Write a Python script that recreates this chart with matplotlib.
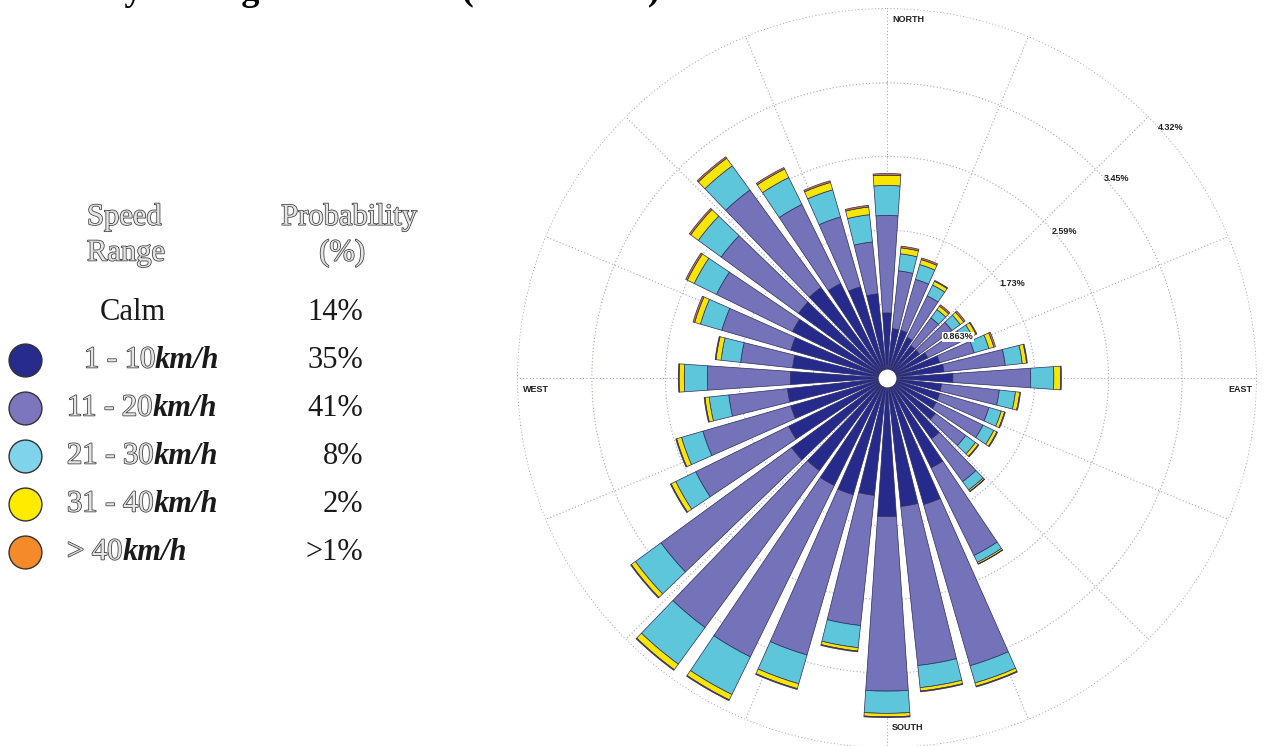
import numpy as np
import matplotlib.pyplot as plt
import matplotlib.patheffects as pe

# wind directions (degrees, clockwise from north)
directions = np.arange(0, 360, 10)

# probability (%) per direction and speed class
spd_1_10 = [0.76, 0.58, 0.58, 0.53, 0.47, 0.47, 0.53, 0.64, 0.67, 0.77, 0.64, 0.64,
            0.64, 0.70, 0.88, 1.17, 1.54, 1.51, 1.62, 1.38, 1.42, 1.40, 1.34, 1.38,
            1.28, 1.17, 1.17, 1.13, 1.11, 1.17, 1.23, 1.28, 1.31, 1.23, 1.11, 0.99]
spd_11_20 = [1.14, 0.68, 0.62, 0.54, 0.40, 0.47, 0.46, 0.42, 0.72, 0.91, 0.68, 0.60,
             0.61, 0.44, 0.62, 1.14, 1.96, 1.87, 2.04, 1.53, 1.95, 2.23, 2.27, 1.89,
             1.21, 1.07, 0.69, 0.97, 0.61, 0.84, 0.99, 1.12, 1.41, 1.03, 0.85, 0.61]
spd_21_30 = [0.35, 0.20, 0.18, 0.14, 0.12, 0.12, 0.12, 0.18, 0.20, 0.27, 0.19, 0.15,
             0.14, 0.14, 0.12, 0.09, 0.21, 0.26, 0.26, 0.26, 0.35, 0.49, 0.53, 0.37,
             0.26, 0.26, 0.23, 0.27, 0.23, 0.26, 0.29, 0.33, 0.35, 0.35, 0.33, 0.32]
spd_31_40 = [0.12, 0.07, 0.06, 0.05, 0.05, 0.05, 0.05, 0.06, 0.05, 0.08, 0.05, 0.04,
             0.04, 0.04, 0.02, 0.02, 0.04, 0.04, 0.04, 0.04, 0.06, 0.07, 0.08, 0.06,
             0.06, 0.06, 0.05, 0.06, 0.06, 0.07, 0.09, 0.11, 0.11, 0.11, 0.09, 0.09]
spd_40_up = [0.02, 0.02, 0.02, 0.01, 0.02, 0.02, 0.01, 0.02, 0.01, 0.01, 0.01, 0.01,
             0.01, 0.01, 0.005, 0.005, 0.01, 0.01, 0.01, 0.01, 0.01, 0.01, 0.01, 0.01,
             0.01, 0.01, 0.01, 0.01, 0.01, 0.02, 0.02, 0.02, 0.02, 0.02, 0.02, 0.02]

ring_values = [0.863, 1.73, 2.59, 3.45, 4.32]

# table on the left
range_labels = ['Calm', '1 - 10', '11 - 20', '21 - 30', '31 - 40', '> 40']
range_probs = ['14%', '35%', '41%', '8%', '2%', '>1%']

bar_colors = ['#262a8a', '#7472b9', '#5ec6da', '#f6e600', '#d9762c']
dot_colors = ['#262b8c', '#7b76bd', '#7fd3ea', '#ffeb00', '#f58a2a']

series = [spd_1_10, spd_11_20, spd_21_30, spd_31_40, spd_40_up]

fig = plt.figure(figsize=(12.65, 7.46), dpi=100)

# --- wind rose ---
ax = fig.add_axes([517 / 1265, -2 / 746, 740 / 1265, 740 / 746], projection='polar')
ax.set_theta_zero_location('N')
ax.set_theta_direction(-1)

theta = np.deg2rad(directions)
width = np.deg2rad(10) * 0.78
bottom = np.zeros(len(directions))
for vals, col in zip(series, bar_colors):
    vals = np.array(vals)
    ax.bar(theta, vals, width=width, bottom=bottom, color=col,
           edgecolor='#2c2c5c', linewidth=0.5, zorder=3)
    bottom += vals

ax.scatter([0], [0], s=140, color='white', zorder=5)

ax.set_ylim(0, 4.325)
ax.set_rgrids(ring_values, labels=[''] * len(ring_values))
ax.set_thetagrids(np.arange(0, 360, 22.5), labels=[''] * 16)
ax.grid(color='#a3a3cc', linestyle=(0, (1, 2)), linewidth=0.8)
ax.set_axisbelow(True)
ax.spines['polar'].set_visible(False)

label_angles = [60, 53, 50.5, 49, 48.5]
for r, a in zip(ring_values, label_angles):
    ax.text(np.deg2rad(a), r + 0.1, f'{r}%', fontsize=6.5, fontweight='bold',
            family='Liberation Sans', ha='center', va='center', color='#222222',
            bbox=dict(facecolor='white', edgecolor='none', pad=0.5) if r < 1 else None,
            zorder=6)

# --- overlay in pixel coords for text ---
ov = fig.add_axes([0, 0, 1, 1])
ov.set_xlim(0, 1265)
ov.set_ylim(746, 0)
ov.axis('off')

compass = dict(fontsize=6.5, fontweight='bold', family='Liberation Sans', color='#222222', va='center')
ov.text(892, 19, 'NORTH', ha='left', **compass)
ov.text(892, 727, 'SOUTH', ha='left', **compass)
ov.text(523, 389, 'WEST', ha='left', **compass)
ov.text(1252, 389, 'EAST', ha='right', **compass)

# title (cut off at the top edge, as in the source image)
fig.text(60 / 1265, 1.0, 'Daily Average Wind Rose (2000 - 2010)', fontsize=26,
         fontweight='bold', family='Liberation Serif', va='baseline', ha='left')

hollow = [pe.withStroke(linewidth=1.1, foreground='#3a3a3a')]
serif = dict(family='Liberation Serif', fontsize=22)

ov.text(87, 217, 'Speed', ha='left', va='center', color='#e4e4e4', path_effects=hollow, **serif)
ov.text(87, 253, 'Range', ha='left', va='center', color='#e4e4e4', path_effects=hollow, **serif)
ov.text(349, 217, 'Probability', ha='center', va='center', color='#e4e4e4', path_effects=hollow, **serif)
ov.text(342, 253, '(%)', ha='center', va='center', color='#e4e4e4', path_effects=hollow, **serif)

row_y0, row_dy = 312, 48
for i, (lab, prob) in enumerate(zip(range_labels, range_probs)):
    y = row_y0 + i * row_dy
    ov.text(363, y, prob, ha='right', va='center', color='#1a1a1a', **serif)
    if lab == 'Calm':
        ov.text(133, y, lab, ha='center', va='center', color='#1a1a1a', **serif)
        continue
    ov.scatter([25], [y], s=560, color=dot_colors[i - 1], edgecolor='#333333', linewidth=1.0)
    x0 = 84 if lab == '1 - 10' else 67
    t = ov.text(x0, y, lab, ha='left', va='center', color='#e4e4e4', path_effects=hollow, **serif)
    ov.annotate('km/h', xy=(1, 0.5), xycoords=t, ha='left', va='center',
                fontweight='bold', fontstyle='italic', color='#1a1a1a', **serif)

fig.savefig('out.png', dpi=100)
